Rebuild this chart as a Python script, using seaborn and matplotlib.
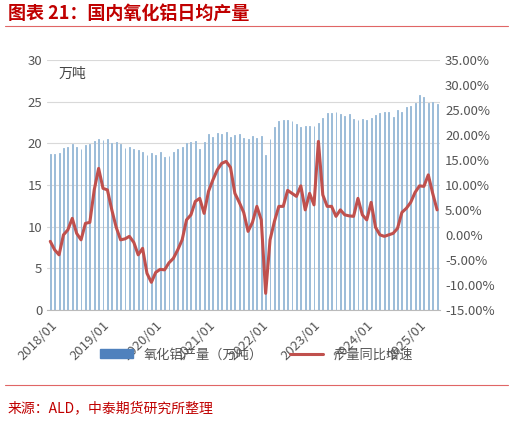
import matplotlib
matplotlib.use('Agg')
import matplotlib.pyplot as plt
import seaborn as sns
import numpy as np
import pandas as pd
from matplotlib.lines import Line2D
from matplotlib.patches import Patch

# Data (2018/01 .. 2025/05)
output = [18.7, 18.7, 18.8, 19.4, 19.6, 19.9, 19.5, 19.3, 19.8, 19.9, 20.3, 20.5,
          20.4, 20.5, 20.0, 20.1, 19.9, 19.4, 19.5, 19.3, 19.2, 19.0, 18.6, 18.8,
          18.6, 18.9, 18.4, 18.5, 19.0, 19.3, 19.6, 20.0, 20.2, 20.3, 19.3, 20.2,
          21.1, 20.8, 21.2, 21.1, 21.3, 20.7, 21.0, 21.1, 20.6, 20.5, 20.9, 20.6,
          20.9, 18.6, 20.5, 22.0, 22.7, 22.8, 22.8, 22.7, 22.3, 21.9, 22.1, 22.1,
          22.1, 22.4, 23.0, 23.6, 23.6, 23.8, 23.5, 23.3, 23.5, 22.9, 22.8, 22.9,
          22.8, 23.0, 23.4, 23.6, 23.7, 23.7, 23.1, 24.0, 23.8, 24.4, 24.5, 24.8,
          25.8, 25.6, 24.8, 24.9, 24.7]
yoy = [-1.3, -3, -4, 0, 1, 3.3, 0.3, -1, 2.3, 2.5, 9, 13.3,
       9.3, 9, 5, 1.5, -1, -0.8, -0.3, -1.5, -4, -2.7, -7.7, -9.5,
       -7.5, -6.9, -7, -5.6, -4.7, -3, -1, 3, 4, 6.7, 7.3, 4.3,
       8.7, 11, 13, 14.3, 14.7, 13.5, 8.3, 6.5, 4.5, 0.7, 2.5, 5.7,
       3, -11.7, -1, 2.7, 5.7, 5.7, 8.9, 8.3, 7.7, 9.8, 5, 8.3,
       6, 18.7, 8, 5.7, 5.7, 3.7, 5, 4, 3.8, 3.7, 7.3, 4,
       3, 6.5, 1.5, 0, -0.3, 0, 0.3, 1.3, 4.5, 5.3, 6.5, 8.5,
       9.8, 9.7, 12, 8.3, 5]
tick_labels = ['2018/01', '2019/01', '2020/01', '2021/01', '2022/01', '2023/01', '2024/01', '2025/01']

sns.set_style('white')
plt.rcParams['font.family'] = ['Noto Sans CJK SC', 'DejaVu Sans']

df = pd.DataFrame({'idx': np.arange(len(output)), 'output': output, 'yoy': yoy})

fig = plt.figure(figsize=(5.13, 4.25), dpi=100)
ax = fig.add_axes([0.092, 0.271, 0.766, 0.588])
sns.barplot(data=df, x='idx', y='output', native_scale=True, width=0.2,
            color='#9cbcd9', saturation=1, edgecolor='#9cbcd9', linewidth=0.7, ax=ax)
ax.set_ylim(0, 30)
ax.set_yticks(range(0, 31, 5))
ax.set_xlim(-0.7, len(output) - 0.3)
ax.yaxis.grid(True, color='#d9d9d9', lw=0.8)
ax.set_axisbelow(True)
ax.set_xticks(np.arange(0, len(output), 12))
ax.set_xticklabels(tick_labels, rotation=45, ha='right', rotation_mode='anchor', fontsize=9.5, color='#555555')
ax.tick_params(axis='y', labelsize=9.5, colors='#555555', length=0)
ax.tick_params(axis='x', length=3, color='#bbbbbb')
ax.set_xlabel('')
ax.set_ylabel('')
for s in ['top', 'right', 'left']:
    ax.spines[s].set_visible(False)
ax.spines['bottom'].set_color('#bbbbbb')
ax.text(0.03, 0.93, '万吨', transform=ax.transAxes, fontsize=10, color='#444444')

ax2 = ax.twinx()
sns.lineplot(data=df, x='idx', y='yoy', color='#c0504d', lw=2.2, ax=ax2)
ax2.set_ylim(-15, 35)
ax2.set_yticks(range(-15, 36, 5))
ax2.set_yticklabels([f'{v:.2f}%' for v in range(-15, 36, 5)])
ax2.tick_params(axis='y', labelsize=9.5, colors='#555555', length=0)
ax2.set_ylabel('')
for s in ['top', 'right', 'left', 'bottom']:
    ax2.spines[s].set_visible(False)

handles = [Patch(color='#4f81bd'), Line2D([0], [0], color='#c0504d', lw=2.2)]
fig.legend(handles, ['氧化铝产量（万吨）', '产量同比增速'], loc='center', bbox_to_anchor=(0.5, 0.165),
           ncol=2, frameon=False, fontsize=9.5, labelcolor='#555555', handlelength=2.5)

fig.text(0.015, 0.955, '图表 21：国内氧化铝日均产量', fontsize=13, color='#c00000',
         fontweight='bold', style='italic')
fig.add_artist(Line2D([0.01, 0.99], [0.94, 0.94], color='#e06666', lw=0.8))
fig.add_artist(Line2D([0.01, 0.99], [0.095, 0.095], color='#e06666', lw=0.8))
fig.text(0.015, 0.03, '来源：ALD，中泰期货研究所整理', fontsize=10, color='#c00000')

fig.savefig('out.png', dpi=100)
